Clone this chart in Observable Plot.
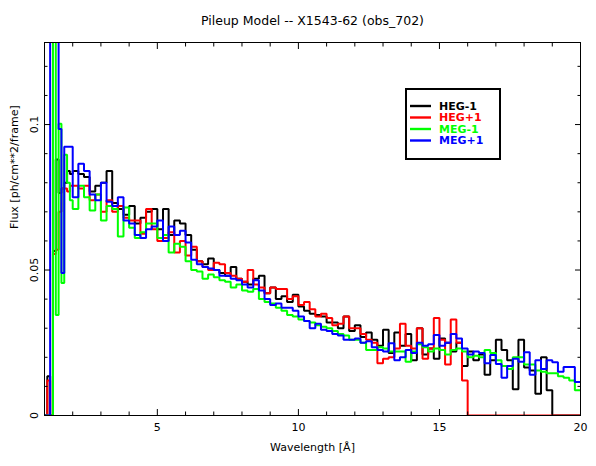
<!DOCTYPE html>
<html><head><meta charset="utf-8">
<script src="https://cdn.jsdelivr.net/npm/d3@7"></script>
<script src="https://cdn.jsdelivr.net/npm/@observablehq/plot@0.6"></script>
<style>html,body{margin:0;padding:0;background:#fff}</style>
</head><body><div id="chart"></div>
<script>
const title = "Pileup Model -- X1543-62 (obs_702)";
const xLabel = "Wavelength [Å]";
const yLabel = "Flux [ph/cm**2/frame]";
const seriesNames = ["HEG-1", "HEG+1", "MEG-1", "MEG+1"];
const seriesColors = ["#000000", "#ff0000", "#00ff00", "#0000ff"];
const xMajor = [5, 10, 15, 20];
const xMinor = [2, 3, 4, 6, 7, 8, 9, 11, 12, 13, 14, 16, 17, 18, 19];
const yMajor = [0, 0.05, 0.1];
const yMinor = [0.01, 0.02, 0.03, 0.04, 0.06, 0.07, 0.08, 0.09, 0.11, 0.12];
// bin left edges: 0.1 A bins from 1 to 2, then 0.2 A bins from 2 to 20
const binEdges = [...d3.range(10).map(i => +(1 + i * 0.1).toFixed(2)), ...d3.range(90).map(i => +(2 + i * 0.2).toFixed(2))];
const xEnd = 20;

const hegM1 = [
  0, 0.0135, 0, 0.0565, 0.088, 0.0765, 0.078, 0.080, 0.084, 0.083,
  0.084, 0.083, 0.082, 0.077, 0.079, 0.080, 0.084, 0.073, 0.071, 0.069,
  0.072, 0.066, 0.068, 0.070, 0.071, 0.064, 0.071, 0.062, 0.067, 0.066,
  0.062, 0.057, 0.053, 0.052, 0.054, 0.050, 0.049, 0.048, 0.051, 0.047,
  0.046, 0.045, 0.047, 0.048, 0.042, 0.044, 0.040, 0.041, 0.039, 0.0415,
  0.0375, 0.036, 0.035, 0.0345, 0.034, 0.032, 0.032, 0.030, 0.034, 0.029,
  0.031, 0.027, 0.0285, 0.026, 0.024, 0.0295, 0.0215, 0.0285, 0.024, 0.028,
  0.019, 0.030, 0.021, 0.023, 0.0195, 0.0265, 0.025, 0.022, 0.025, 0.017,
  0.022, 0.019, 0.021, 0.014, 0.019, 0.026, 0.0225, 0.019, 0.009, 0.026,
  0.0165, 0.0155, 0.0075, 0.020, 0.0087, 0, 0, 0, 0, 0
];
const hegP1 = [
  0, 0.012, 0, 0.0555, 0.057, 0.070, 0.078, 0.078, 0.077, 0.079,
  0.079, 0.078, 0.079, 0.074, 0.076, 0.070, 0.074, 0.070, 0.072, 0.068,
  0.067, 0.067, 0.0625, 0.071, 0.064, 0.060, 0.061, 0.063, 0.056, 0.060,
  0.055, 0.058, 0.053, 0.051, 0.050, 0.0525, 0.052, 0.049, 0.048, 0.047,
  0.046, 0.050, 0.045, 0.044, 0.042, 0.044, 0.0435, 0.0435, 0.040, 0.041,
  0.038, 0.039, 0.0365, 0.034, 0.035, 0.0335, 0.031, 0.0315, 0.034, 0.030,
  0.030, 0.028, 0.026, 0.025, 0.018, 0.0195, 0.020, 0.023, 0.0315, 0.024,
  0.023, 0.030, 0.0195, 0.023, 0.0335, 0.026, 0.0175, 0.033, 0.025, 0.012,
  0, 0, 0, 0, 0, 0, 0, 0, 0, 0,
  0, 0, 0, 0, 0, 0, 0, 0, 0, 0
];
const megM1 = [
  0, 0, 0, 0.14, 0.0345, 0.1003, 0.0455, 0.0896, 0.080, 0.074,
  0.071, 0.079, 0.075, 0.0705, 0.076, 0.067, 0.072, 0.071, 0.0615, 0.0715,
  0.0645, 0.061, 0.063, 0.066, 0.066, 0.061, 0.062, 0.056, 0.059, 0.058,
  0.053, 0.050, 0.0495, 0.047, 0.0485, 0.0475, 0.0465, 0.046, 0.044, 0.045,
  0.043, 0.0425, 0.0435, 0.040, 0.039, 0.0385, 0.037, 0.036, 0.0345, 0.034,
  0.033, 0.0325, 0.032, 0.031, 0.0305, 0.030, 0.029, 0.028, 0.0275, 0.026,
  0.026, 0.025, 0.0225, 0.0225, 0.0235, 0.023, 0.022, 0.022, 0.022, 0.0185,
  0.022, 0.0245, 0.0235, 0.022, 0.023, 0.0225, 0.021, 0.0225, 0.023, 0.022,
  0.020, 0.0205, 0.020, 0.0225, 0.0215, 0.019, 0.017, 0.016, 0.020, 0.020,
  0.0175, 0.0175, 0.0155, 0.015, 0.0145, 0.0145, 0.0135, 0.013, 0.012, 0.0087
];
const megP1 = [
  0, 0, 0.14, 0.14, 0.14, 0.0985, 0.049, 0.0924, 0.0924, 0.0924,
  0.075, 0.0865, 0.084, 0.076, 0.074, 0.080, 0.0735, 0.072, 0.075, 0.067,
  0.066, 0.062, 0.061, 0.064, 0.065, 0.067, 0.060, 0.065, 0.062, 0.0635,
  0.0595, 0.0535, 0.052, 0.051, 0.0505, 0.050, 0.048, 0.048, 0.047, 0.0465,
  0.045, 0.044, 0.0465, 0.043, 0.040, 0.038, 0.0385, 0.037, 0.037, 0.036,
  0.034, 0.0325, 0.030, 0.0315, 0.0295, 0.029, 0.028, 0.0275, 0.026, 0.026,
  0.0265, 0.025, 0.0255, 0.0235, 0.0225, 0.022, 0.0248, 0.019, 0.020, 0.0225,
  0.0215, 0.025, 0.024, 0.0245, 0.0277, 0.024, 0.025, 0.028, 0.0265, 0.023,
  0.021, 0.022, 0.0215, 0.018, 0.0208, 0.0177, 0.013, 0.017, 0.0195, 0.0185,
  0.0217, 0.014, 0.019, 0.016, 0.019, 0.0183, 0.015, 0.0167, 0.0167, 0.0115
];
const seriesValues = [hegM1, hegP1, megM1, megP1];

function stepData(vals) {
  const pts = vals.map((v, i) => ({x: binEdges[i], y: v}));
  pts.push({x: xEnd, y: vals[vals.length - 1]});
  return pts;
}

const font = "'DejaVu Sans', sans-serif";
const chart = Plot.plot({
  width: 596,
  height: 466,
  marginLeft: 44,
  marginRight: 16,
  marginTop: 42,
  marginBottom: 51,
  style: {fontFamily: font, fontSize: "11px", background: "white", color: "black", overflow: "visible"},
  x: {domain: [1, 20]},
  y: {domain: [0, 0.1282]},
  marks: [
    ...seriesValues.map((vals, k) => Plot.line(stepData(vals), {
      x: "x", y: "y", curve: "step-after", stroke: seriesColors[k], strokeWidth: 2,
      strokeLinejoin: "miter", clip: true
    })),
    Plot.frame({stroke: "black", strokeWidth: 1}),
    // inward ticks on all four sides
    Plot.axisX(xMinor, {anchor: "bottom", tickSize: -3.5, fill: "none", label: null}),
    Plot.axisX(xMajor, {anchor: "bottom", tickSize: -6, fill: "none", label: null}),
    Plot.axisX(xMinor, {anchor: "top", tickSize: -3.5, fill: "none", label: null}),
    Plot.axisX(xMajor, {anchor: "top", tickSize: -6, fill: "none", label: null}),
    Plot.axisY(yMinor, {anchor: "left", tickSize: -3.5, fill: "none", label: null}),
    Plot.axisY(yMajor, {anchor: "left", tickSize: -6, fill: "none", label: null}),
    Plot.axisY(yMinor, {anchor: "right", tickSize: -3.5, fill: "none", label: null}),
    Plot.axisY(yMajor, {anchor: "right", tickSize: -6, fill: "none", label: null}),
    // tick labels
    Plot.axisX(xMajor, {anchor: "bottom", tickSize: 0, tickPadding: 8, stroke: "none", label: null, tickFormat: d => String(d)}),
    Plot.axisY(yMajor, {anchor: "left", tickSize: 0, tickPadding: 7, tickRotate: -90, stroke: "none", label: null, tickFormat: d => String(d)}),
    // titles
    Plot.text([xLabel], {frameAnchor: "bottom", dy: 35, text: d => d}),
    Plot.text([yLabel], {frameAnchor: "left", dx: -30, rotate: -90, text: d => d}),
    Plot.text([title], {frameAnchor: "top", dy: -26, fontSize: 12.5, text: d => d})
  ]
});
document.getElementById("chart").appendChild(chart);

// legend box
const svg = d3.select(chart);
const lg = svg.append("g").attr("font-family", font).attr("font-size", 11)
  .attr("font-weight", "bold").attr("text-anchor", "start");
lg.append("rect").attr("x", 406).attr("y", 89).attr("width", 94).attr("height", 70)
  .attr("fill", "white").attr("stroke", "black").attr("stroke-width", 2);
seriesNames.forEach((name, i) => {
  const yy = 106 + i * 11.5;
  lg.append("line").attr("x1", 410).attr("x2", 431).attr("y1", yy).attr("y2", yy)
    .attr("stroke", seriesColors[i]).attr("stroke-width", 2.4);
  lg.append("text").attr("x", 439).attr("y", yy).attr("dy", "0.35em")
    .attr("text-anchor", "start").attr("fill", seriesColors[i]).text(name);
});
</script>
</body></html>
